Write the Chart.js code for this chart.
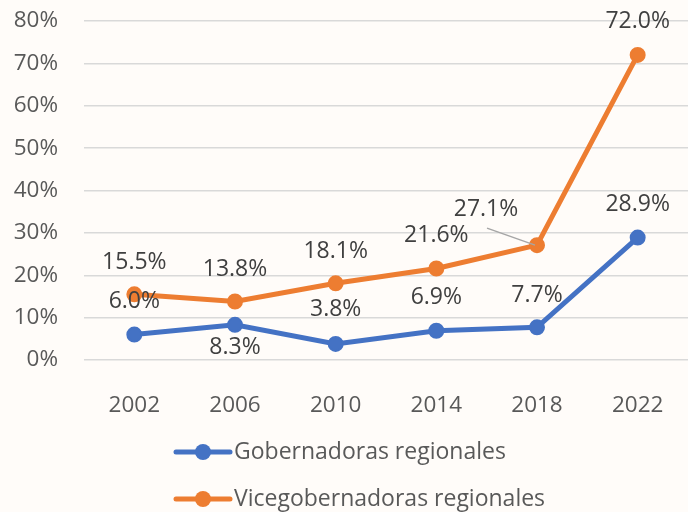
<!DOCTYPE html>
<html>

<head>
    <title>Gobernadoras y vicegobernadoras regionales</title>
    <script src="https://cdn.jsdelivr.net/npm/chart.js"></script>
    <style>
        body {
            margin: 0;
            background-color: #fffcf9;
        }

        .chart-box {
            width: 688px;
            height: 512px;
        }
    </style>
</head>

<body>
    <div class="chart-box">
        <canvas id="chart" width="688" height="512"></canvas>
    </div>

    <script>
        const years = ['2002', '2006', '2010', '2014', '2018', '2022'];
        const gobernadoras = [6.0, 8.3, 3.8, 6.9, 7.7, 28.9];
        const vicegobernadoras = [15.5, 13.8, 18.1, 21.6, 27.1, 72.0];
        const yTicks = [0, 10, 20, 30, 40, 50, 60, 70, 80];

        const blue = '#4472c4';
        const orange = '#ed7d31';
        const fontFamily = "'Open Sans', sans-serif";

        // where each value label sits relative to its point (dx, dy)
        const labelShift = [
            [[0, -33], [0, 23], [0, -34], [0, -33], [0, -32], [0, -33]],
            [[0, -32], [0, -32], [0, -32], [0, -33], [-51, -36], [0, -33]]
        ];

        const valueLabels = {
            id: 'valueLabels',
            afterDatasetsDraw(chart) {
                const ctx = chart.ctx;
                ctx.save();
                ctx.font = '23px ' + fontFamily;
                ctx.fillStyle = '#404040';
                ctx.textAlign = 'center';
                ctx.textBaseline = 'middle';
                chart.data.datasets.forEach((ds, i) => {
                    chart.getDatasetMeta(i).data.forEach((pt, j) => {
                        const [dx, dy] = labelShift[i][j];
                        if (dx !== 0) {
                            // leader line back to the point
                            ctx.strokeStyle = '#a6a6a6';
                            ctx.lineWidth = 1.5;
                            ctx.beginPath();
                            ctx.moveTo(pt.x + dx + 1, pt.y + dy + 19);
                            ctx.lineTo(pt.x - 2, pt.y);
                            ctx.stroke();
                        }
                        ctx.fillText(ds.data[j].toFixed(1) + '%', pt.x + dx, pt.y + dy);
                    });
                });
                ctx.restore();
            }
        };

        const bottomLegend = {
            id: 'bottomLegend',
            afterDraw(chart) {
                const ctx = chart.ctx;
                ctx.save();
                ctx.font = '23px ' + fontFamily;
                ctx.textBaseline = 'middle';
                chart.data.datasets.forEach((ds, i) => {
                    const y = 452 + i * 47;
                    ctx.strokeStyle = ds.borderColor;
                    ctx.lineWidth = 5;
                    ctx.lineCap = 'round';
                    ctx.beginPath();
                    ctx.moveTo(176, y);
                    ctx.lineTo(230, y);
                    ctx.stroke();
                    ctx.fillStyle = ds.borderColor;
                    ctx.beginPath();
                    ctx.arc(203, y, 8, 0, Math.PI * 2);
                    ctx.fill();
                    ctx.fillStyle = '#595959';
                    ctx.fillText(ds.label, 234, y);
                });
                ctx.restore();
            }
        };

        const ctx = document.getElementById('chart').getContext('2d');
        const chart = new Chart(ctx, {
            type: 'line',
            data: {
                labels: years,
                datasets: [{
                    label: 'Gobernadoras regionales',
                    data: gobernadoras,
                    borderColor: blue,
                    backgroundColor: blue,
                    borderWidth: 5,
                    pointRadius: 7,
                    pointBorderWidth: 2,
                    pointHoverRadius: 7,
                    tension: 0,
                    clip: false
                }, {
                    label: 'Vicegobernadoras regionales',
                    data: vicegobernadoras,
                    borderColor: orange,
                    backgroundColor: orange,
                    borderWidth: 5,
                    pointRadius: 7,
                    pointBorderWidth: 2,
                    pointHoverRadius: 7,
                    tension: 0,
                    clip: false
                }]
            },
            options: {
                responsive: false,
                animation: false,
                layout: {
                    autoPadding: false,
                    padding: { top: 21, left: 0, right: 0, bottom: 0 }
                },
                plugins: {
                    legend: { display: false },
                    tooltip: { enabled: false }
                },
                scales: {
                    x: {
                        offset: true,
                        grid: { display: false },
                        border: { display: false },
                        ticks: {
                            color: '#595959',
                            padding: 24,
                            font: { family: fontFamily, size: 22.5 }
                        },
                        afterFit: s => {
                            s.height = 152;
                            s.paddingLeft = 0;
                            s.paddingRight = 0;
                        }
                    },
                    y: {
                        min: 0,
                        max: 80,
                        grid: { color: '#d9d9d9', lineWidth: 1.5, drawTicks: false },
                        border: { display: false },
                        afterBuildTicks: s => { s.ticks = yTicks.map(v => ({ value: v })); },
                        ticks: {
                            color: '#595959',
                            padding: 26,
                            font: { family: fontFamily, size: 22.5 },
                            callback: v => v + '%'
                        },
                        afterFit: s => {
                            s.width = 84;
                            s.paddingTop = 0;
                            s.paddingBottom = 0;
                        }
                    }
                }
            },
            plugins: [valueLabels, bottomLegend]
        });
    </script>
</body>

</html>
